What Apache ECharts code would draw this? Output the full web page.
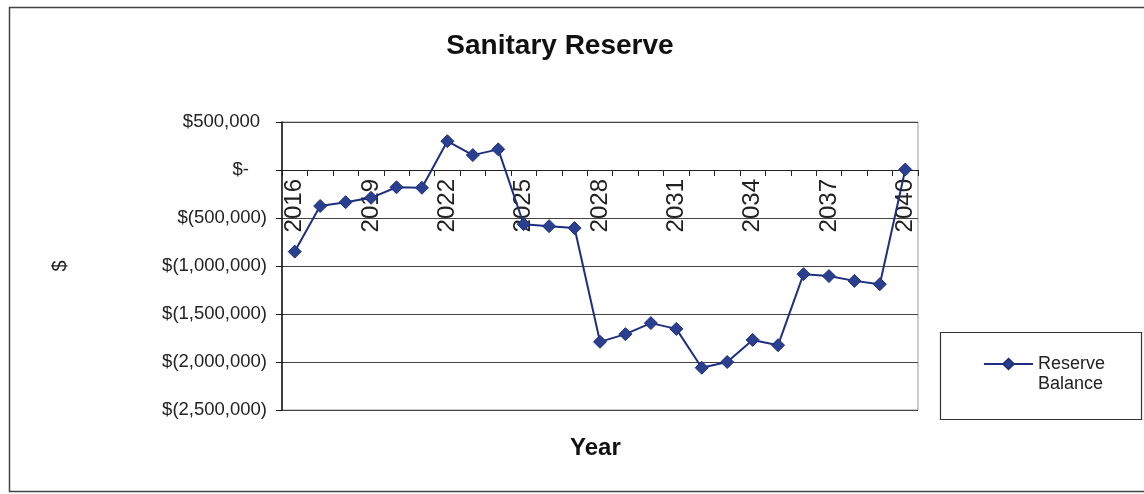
<!DOCTYPE html>
<html>
<head>
<meta charset="utf-8">
<script src="https://cdn.jsdelivr.net/npm/echarts@6/dist/echarts.min.js"></script>
<style>
html,body{margin:0;padding:0;background:#fff;}
#chart{width:1144px;height:494px;}
</style>
</head>
<body>
<div id="chart"></div>
<script>
const years = ['2016','2017','2018','2019','2020','2021','2022','2023','2024','2025','2026','2027','2028','2029','2030','2031','2032','2033','2034','2035','2036','2037','2038','2039','2040'];
const reserveBalance = [-850000,-375000,-335000,-290000,-180000,-185000,300000,155000,215000,-565000,-585000,-605000,-1790000,-1710000,-1595000,-1655000,-2060000,-2000000,-1770000,-1825000,-1085000,-1105000,-1155000,-1190000,5000];
const seriesName = 'Reserve Balance';
const titleText = 'Sanitary Reserve';
const xAxisTitle = 'Year';
const yAxisTitle = '$';

const FONT = '"Liberation Sans", Arial, sans-serif';
const chart = echarts.init(document.getElementById('chart'));

const Y_MIN = -2500000, Y_MAX = 500000;
const GRID_TOP = 122, GRID_BOTTOM = 84, H = 494;
// distance from bottom of plot to the zero line, used to place the category axis at zero
const plotH = H - GRID_TOP - GRID_BOTTOM;
const zeroOffset = -plotH * (0 - Y_MIN) / (Y_MAX - Y_MIN);

function fmtY(v){
  if (v === 0) return '{z|$-}';
  const s = Math.abs(v).toLocaleString('en-US');
  if (v > 0) return '{p|$' + s + '}';
  return '{n|$(' + s + ')}';
}

chart.setOption({
  animation: false,
  backgroundColor: '#fff',
  title: {
    text: titleText, left: 555, top: 27, textAlign: 'center',
    textStyle: {fontFamily: FONT, fontSize: 28, fontWeight: 'bold', color: '#111'}
  },
  grid: {left: 282, right: 226, top: GRID_TOP, bottom: GRID_BOTTOM, show: true, borderColor: '#999', borderWidth: 1},
  legend: {
    left: 983, top: 334, padding: 0, itemWidth: 49, itemHeight: 13, itemGap: 0,
    formatter: () => '\nReserve\nBalance',
    textStyle: {fontFamily: FONT, fontSize: 18, color: '#222', lineHeight: 20}
  },
  xAxis: {
    type: 'category', data: years, boundaryGap: true, position: 'bottom', offset: zeroOffset,
    axisLine: {onZero: false, lineStyle: {color: '#222', width: 1}},
    axisTick: {show: true, interval: 0, length: 6, inside: false, lineStyle: {color: '#222'}},
    axisLabel: {interval: 2, rotate: 90, margin: 9, fontFamily: FONT, fontSize: 24, color: '#222'},
    splitLine: {show: false}
  },
  yAxis: {
    type: 'value', min: Y_MIN, max: Y_MAX, interval: 500000,
    name: yAxisTitle, nameLocation: 'middle', nameGap: 212, nameRotate: 90,
    nameTextStyle: {fontFamily: FONT, fontSize: 20, color: '#222'},
    axisLine: {show: true, lineStyle: {color: '#111', width: 1.5}},
    axisTick: {show: true, length: 6, lineStyle: {color: '#111'}},
    axisLabel: {
      margin: 15, formatter: fmtY, fontFamily: FONT, fontSize: 18.5, color: '#222',
      rich: {
        p: {fontFamily: FONT, fontSize: 18.5, color: '#222', padding: [0,7,0,0]},
        z: {fontFamily: FONT, fontSize: 18.5, color: '#222', padding: [0,18,0,0]},
        n: {fontFamily: FONT, fontSize: 18.5, color: '#222'}
      }
    },
    splitLine: {show: true, lineStyle: {color: '#444', width: 1}}
  },
  series: [{
    name: seriesName, type: 'line', data: reserveBalance,
    symbol: 'diamond', symbolSize: 13,
    lineStyle: {color: '#1f2f80', width: 2},
    itemStyle: {color: '#2b3f8f', borderColor: '#1f2f80', borderWidth: 1}
  }],
  graphic: [
    {type: 'rect', left: 7, top: 5, shape: {x: 0, y: 0, width: 1150, height: 484},
     style: {fill: 'none', stroke: '#444', lineWidth: 1.5}, silent: true, z: -1},
    {type: 'rect', left: 938, top: 330, shape: {x: 0, y: 0, width: 201, height: 87},
     style: {fill: 'none', stroke: '#333', lineWidth: 1.2}, silent: true},
    {type: 'text', left: 570, top: 436,
     style: {text: xAxisTitle, fontFamily: FONT, fontSize: 24, fontWeight: 'bold', fill: '#111'}}
  ]
});
</script>
</body>
</html>
